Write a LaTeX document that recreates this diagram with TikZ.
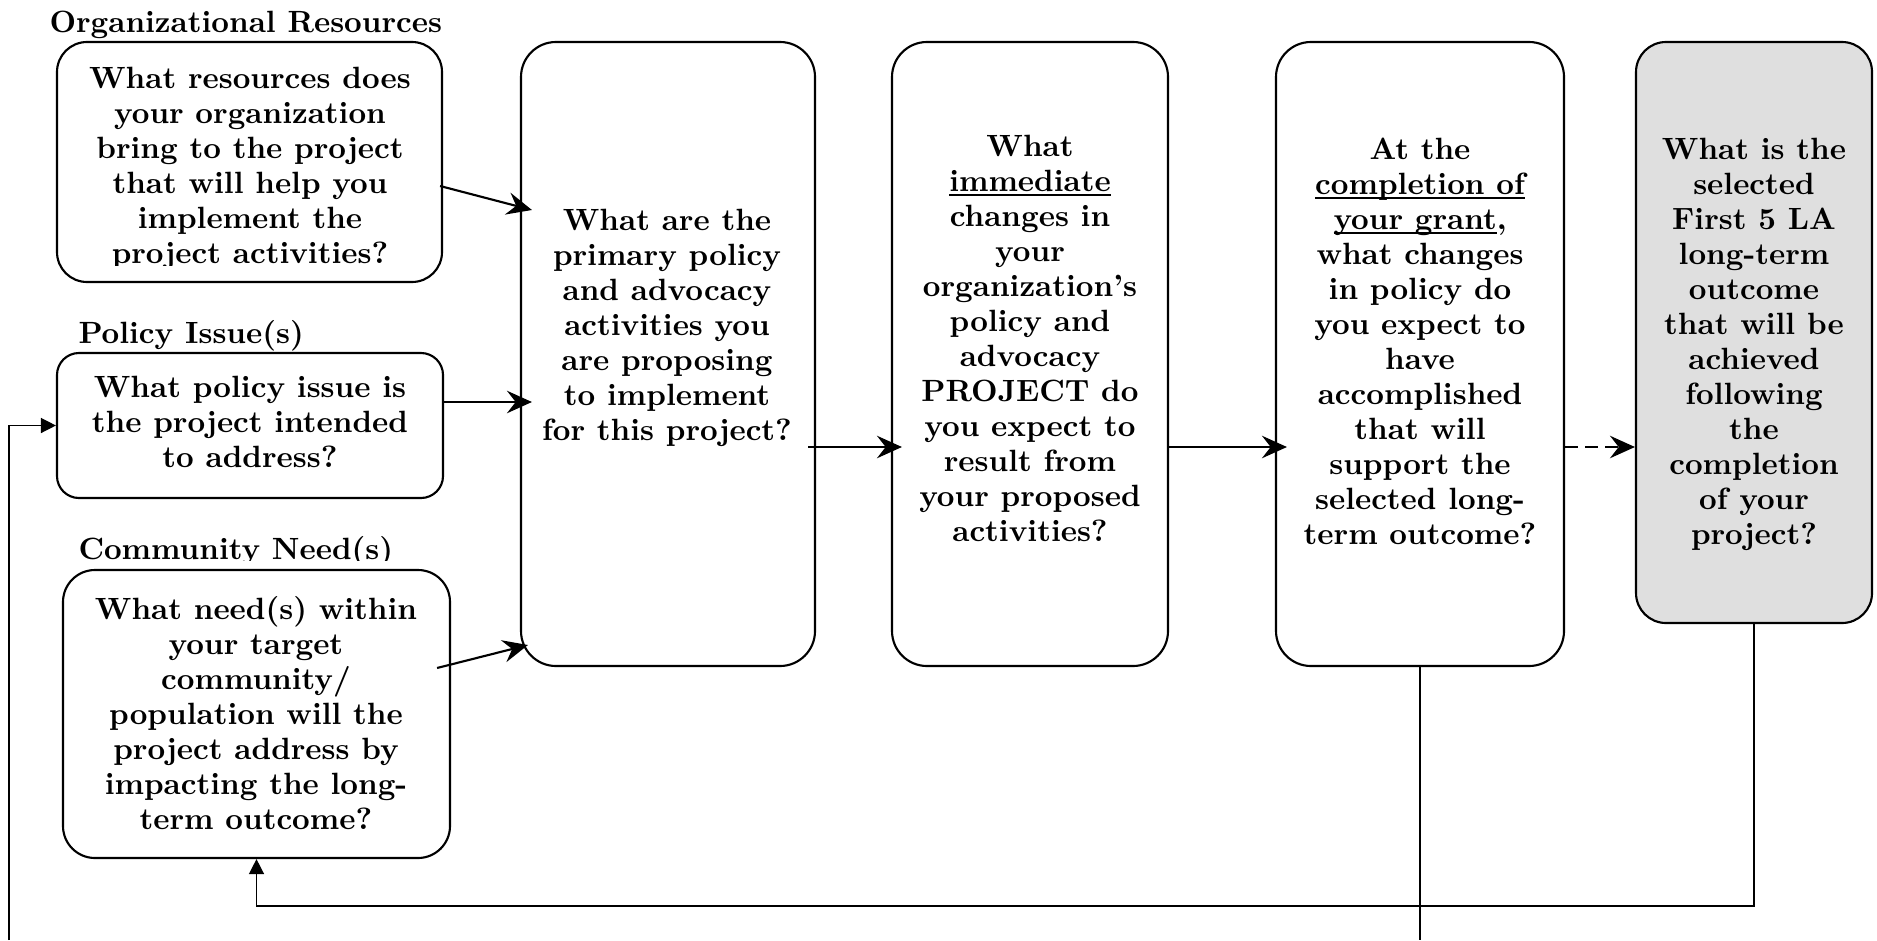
\documentclass[tikz,border=0pt]{standalone}
\usepackage{fontspec}
\newfontfamily\bten{lmroman10-bold}[Extension=.otf]
\usetikzlibrary{arrows.meta,calc}
\newcommand\myul[1]{\setbox0=\hbox{#1}\rlap{\rule[-1.7pt]{\wd0}{0.6pt}}\box0}
\newcommand\Ls{\strut}
\begin{document}
\begin{tikzpicture}[x=0.4pt,y=-0.4pt,
  box/.style={draw, line width=0.85pt, inner sep=0pt},
  txt/.style={inner sep=0pt, align=center, anchor=north, font=\fontsize{12.3}{14}\selectfont\bten},
  lbl/.style={inner sep=0pt, anchor=base west, font=\fontsize{12.3}{14}\selectfont\bten},
  arr/.style={line width=0.85pt, -{Stealth[length=10pt,width=9pt,inset=3.5pt]}},
  fb/.style={line width=0.55pt},
  fbarr/.style={line width=0.55pt, -{Triangle[length=6pt,width=6pt]}}
]
\useasboundingbox (0,0) rectangle (1877,940);

% boxes
\node[box, rounded corners=12pt, minimum width=154pt, minimum height=96pt] (org) at (249.5,162) {};
\node[box, rounded corners=8.8pt, minimum width=154.4pt, minimum height=58pt] (pol) at (250,425.5) {};
\node[box, rounded corners=12.8pt, minimum width=154.8pt, minimum height=115.2pt] (com) at (256.5,714) {};
\node[box, rounded corners=14pt, minimum width=117.6pt, minimum height=249.6pt] (act) at (668,354) {};
\node[box, rounded corners=14pt, minimum width=110.4pt, minimum height=249.6pt] (imm) at (1030,354) {};
\node[box, rounded corners=14pt, minimum width=115.2pt, minimum height=249.6pt] (cmp) at (1420,354) {};
\node[box, rounded corners=12pt, fill=gray!25, minimum width=94.4pt, minimum height=232.4pt] (ltm) at (1754,332.5) {};

% labels
\node[lbl] (orglbl) at (49,32) {Organizational Resources};
\node[lbl] (pollbl) at (78,343) {Policy Issue(s)};
\begin{scope}
  \clip (0,440) rectangle (600,560);
  \node[lbl] (comlbl) at (78,559) {Community Need(s)};
\end{scope}

% texts
\begin{scope}
  \clip (57,42) rectangle (442,265.5);
  \node[txt] (orgtxt) at (250,63.5) {\Ls What resources does\\ \Ls your organization\\ \Ls bring to the project\\ \Ls that will help you\\ \Ls implement the\\ \Ls project activities?};
\end{scope}
\node[txt] (poltxt) at (250,372.5) {\Ls What policy issue is\\ \Ls the project intended\\ \Ls to address?};
\node[txt] (comtxt) at (256,594.5) {\Ls What need(s) within\\ \Ls your target\\ \Ls community/\\ \Ls population will the\\ \Ls project address by\\ \Ls impacting the long-\\ \Ls term outcome?};
\node[txt] (acttxt) at (667,205.5) {\Ls What are the\\ \Ls primary policy\\ \Ls and advocacy\\ \Ls activities you\\ \Ls are proposing\\ \Ls to implement\\ \Ls for this project?};
\node[txt] (immtxt) at (1030,131.5) {\Ls What\\ \Ls\myul{immediate}\\ \Ls changes in\\ \Ls your\\ \Ls organization’s\\ \Ls policy and\\ \Ls advocacy\\ \Ls PROJECT do\\ \Ls you expect to\\ \Ls result from\\ \Ls your proposed\\ \Ls activities?};
\node[txt] (cmptxt) at (1420,134.5) {\Ls At the\\ \Ls\myul{completion of}\\ \Ls\myul{your grant},\\ \Ls what changes\\ \Ls in policy do\\ \Ls you expect to\\ \Ls have\\ \Ls accomplished\\ \Ls that will\\ \Ls support the\\ \Ls selected long-\\ \Ls term outcome?};
\node[txt] (ltmtxt) at (1754,134.5) {\Ls What is the\\ \Ls selected\\ \Ls First 5 LA\\ \Ls long-term\\ \Ls outcome\\ \Ls that will be\\ \Ls achieved\\ \Ls following\\ \Ls the\\ \Ls completion\\ \Ls of your\\ \Ls project?};

% connectors
\draw[arr] ($(org.east)+(-3,24)$) -- ($(act.west)+(12,-144)$);
\draw[arr] ($(pol.east)+(0,-23.5)$) -- ($(act.west)+(12,48)$);
\draw[arr] ($(com.east)+(-14,-46)$) -- ($(act.west)+(8,291)$);
\draw[arr] ($(act.east)+(-8,93)$) -- ($(imm.west)+(11,93)$);
\draw[arr] ($(imm.east)+(0,93)$) -- ($(cmp.west)+(12,93)$);
\draw[arr, dash pattern=on 5pt off 3pt] ($(cmp.east)+(0,93)$) -- ($(ltm.west)+(0,114.5)$);

\coordinate (lb) at (9,940);
\coordinate (fby) at (0,906);
\draw[fbarr] (lb) |- (pol.west);
\draw[fb] (cmp.south) -- (cmp.south |- lb);
\draw[fbarr] (ltm.south) -- (ltm.south |- fby) -| (com.south);
\end{tikzpicture}
\end{document}
